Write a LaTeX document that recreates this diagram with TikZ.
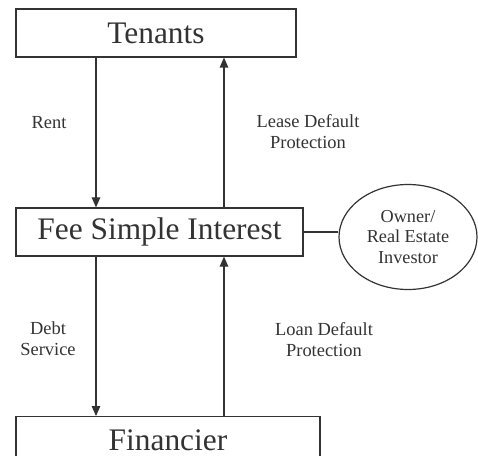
\documentclass[tikz,border=0pt]{standalone}
\usepackage{fontspec}
\setmainfont{Liberation Serif}
\usetikzlibrary{shapes.geometric,arrows.meta}
\definecolor{ink}{HTML}{333333}
\begin{document}
\begin{tikzpicture}[x=1bp,y=-1bp,
  box/.style={draw=ink,line width=1.2bp,text=ink,inner sep=0pt,
    font=\fontsize{31.5}{33}\selectfont,minimum height=48bp},
  lbl/.style={text=ink,align=center,font=\fontsize{18.5}{21}\selectfont},
  arr/.style={draw=ink,line width=1.2bp,-{Triangle[length=10bp,width=8.5bp]}},
  link/.style={draw=ink,line width=1.2bp}]
\useasboundingbox (0,0) rectangle (478,456);
\clip (0,0) rectangle (478,456);
\fill[white] (0,0) rectangle (478,456);

% the three parties
\node[box,minimum width=280bp] (tenants) at (156,33) {Tenants};
\node[box,minimum width=287bp] (fee) at (159.5,232) {Fee Simple Interest};
\node[box,minimum width=304bp,anchor=north] (fin) at (168,416) {\raisebox{-3bp}{Financier}};
\node[draw=ink,line width=1.2bp,ellipse,minimum width=138bp,minimum height=105bp,
  text=ink,align=center,font=\fontsize{18.3}{20.5}\selectfont,inner sep=0pt]
  (owner) at (408,237) {Owner/\\Real Estate\\Investor};

% columns of the flows
\coordinate (xl) at (96,0);
\coordinate (xr) at (224,0);

% flows between the parties
\draw[arr] (tenants.south -| xl) -- (fee.north -| xl);
\draw[arr] (fee.north -| xr) -- (tenants.south -| xr);
\draw[arr] (fee.south -| xl) -- (fin.north -| xl);
\draw[arr] (fin.north -| xr) -- (fee.south -| xr);
\draw[link] (fee.east) -- (fee.east -| owner.west);

% flow labels
\node[lbl] (rent) at (49,123) {Rent};
\node[lbl] (lease) at (308,132) {Lease Default\\Protection};
\node[lbl] (debt) at (48,339) {Debt\\Service};
\node[lbl] (loan) at (324,340) {Loan Default\\Protection};
\end{tikzpicture}
\end{document}
